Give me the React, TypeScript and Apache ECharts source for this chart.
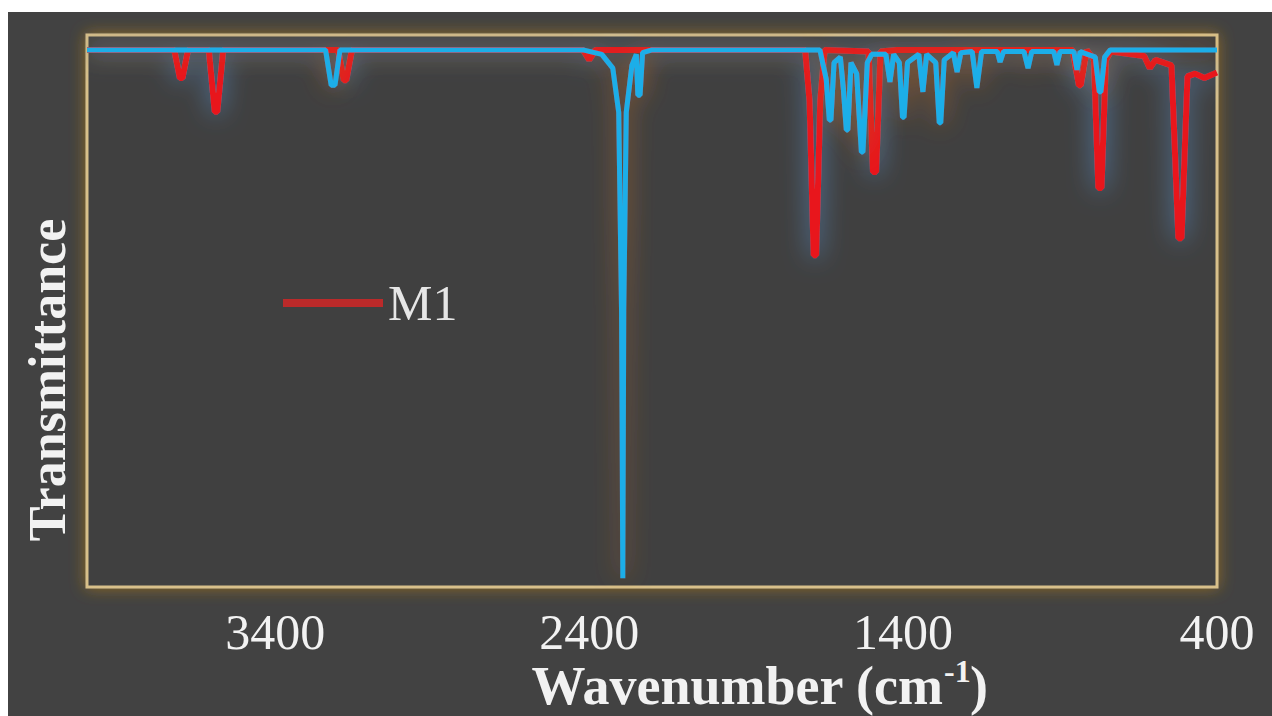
import React, { useEffect, useRef } from 'react';
import * as echarts from 'echarts';

const xTickLabels = [3400, 2400, 1400, 400];
const legendNames = ['M1'];
const yAxisTitle = 'Transmittance';
const xAxisTitleParts = ['Wavenumber (cm', '-1', ')'];

// [wavenumber (cm-1), transmittance %]
const redSpectrum: [number, number][] = [
  [4000, 97.3], [3722, 97.3], [3704, 92.2], [3696, 92.2], [3678, 97.3], [3612, 97.3], [3593, 86.1], [3585, 86.1], [3566, 97.3],
  [3200, 97.3], [3182, 91.8], [3174, 91.8], [3156, 97.3], [2420, 97.3], [2400, 95.5], [2380, 97.3],
  [1712, 97.3], [1698, 88], [1685, 60.1], [1677, 60.1], [1664, 88], [1650, 97.3],
  [1510, 97], [1496, 75.2], [1486, 75.2], [1472, 97], [1420, 97.3],
  [860, 97.3], [840, 90.9], [834, 90.9], [815, 97.3], [792, 95.5], [778, 72.3], [768, 72.3], [754, 95.5], [738, 97],
  [632, 96.2], [614, 94], [596, 95.5], [545, 94.5], [523, 63.2], [513, 63.2], [494, 92.5],
  [470, 93], [440, 92.2], [400, 93.2],
];

const blueSpectrum: [number, number][] = [
  [4000, 97.3], [3240, 97.3], [3222, 90.9], [3210, 90.9], [3194, 97.3],
  [2420, 97.3], [2360, 96.5], [2325, 94], [2306, 86], [2297, 50], [2293, 1.6], [2290, 50], [2282, 86],
  [2264, 94.5], [2250, 96.5], [2245, 89.1], [2238, 89.1], [2230, 96.8], [2200, 97.3],
  [1665, 97.3], [1645, 92], [1635, 84.6], [1630, 84.6], [1620, 95], [1600, 96], [1590, 90], [1581, 82.8], [1576, 82.8], [1566, 95],
  [1548, 93], [1533, 78.8], [1528, 78.8], [1514, 95], [1500, 96.5], [1455, 96.5], [1442, 91.5], [1430, 96.5],
  [1412, 95], [1402, 85.1], [1397, 85.1], [1386, 95], [1350, 96.5], [1337, 89.7], [1325, 96.5],
  [1296, 95], [1285, 84.1], [1280, 84.1], [1269, 95.5], [1240, 96.8], [1228, 93.3], [1216, 96.8],
  [1180, 97], [1165, 90.4], [1150, 97], [1100, 97], [1091, 95.1], [1080, 97],
  [1015, 97], [1002, 94], [990, 97], [920, 97], [910, 94.6], [900, 97],
  [856, 97], [846, 93.7], [836, 97], [788, 96], [775, 89.7], [770, 89.7], [758, 96], [740, 97.3], [400, 97.3],
];

const FONT = '"Liberation Serif", "Times New Roman", serif';

export default function App() {
  const ref = useRef<HTMLDivElement>(null);
  useEffect(() => {
    const chart = echarts.init(ref.current!, null, { renderer: 'svg' });
    const titleStyle = { fill: '#f2f2f2', fontWeight: 'bold', fontFamily: FONT, verticalAlign: 'middle' };
    chart.setOption({
      animation: false,
      backgroundColor: '#424242',
      grid: {
        left: 79, right: 55, top: 23, bottom: 129,
        show: true,
        backgroundColor: '#414141',
        borderColor: '#d8c08a',
        borderWidth: 3,
        shadowColor: 'rgba(150,110,30,0.9)',
        shadowBlur: 16,
      },
      legend: {
        data: legendNames,
        left: 270,
        top: 261,
        icon: 'rect',
        itemWidth: 100,
        itemHeight: 8,
        itemStyle: { color: '#bb2a2a' },
        textStyle: { color: '#e6e6e6', fontSize: 50, fontFamily: FONT },
      },
      xAxis: {
        type: 'value',
        min: 400,
        max: 4000,
        interval: 100,
        inverse: true,
        axisLine: { show: false },
        axisTick: { show: false },
        splitLine: { show: false },
        axisLabel: {
          margin: 29,
          color: '#f2f2f2',
          fontSize: 50,
          lineHeight: 32,
          fontFamily: FONT,
          formatter: (v: number) => (xTickLabels.includes(v) ? String(v) : ''),
        },
      },
      yAxis: {
        type: 'value',
        min: 0,
        max: 100,
        show: false,
      },
      graphic: [
        {
          type: 'text',
          x: 39,
          y: 368,
          rotation: Math.PI / 2,
          style: {
            text: yAxisTitle,
            fill: '#f2f2f2',
            fontSize: 52,
            fontWeight: 'bold',
            fontFamily: FONT,
            align: 'center',
            verticalAlign: 'middle',
          },
        },
        {
          type: 'text',
          x: 935,
          y: 674,
          style: { ...titleStyle, text: xAxisTitleParts[0], fontSize: 54, lineHeight: 36, align: 'right' },
        },
        {
          type: 'text',
          x: 936,
          y: 659,
          style: { ...titleStyle, text: xAxisTitleParts[1], fontSize: 32, lineHeight: 22, align: 'left' },
        },
        {
          type: 'text',
          x: 962,
          y: 674,
          style: { ...titleStyle, text: xAxisTitleParts[2], fontSize: 54, lineHeight: 36, align: 'left' },
        },
      ],
      series: [
        {
          name: 'M1',
          type: 'line',
          data: redSpectrum,
          symbol: 'none',
          lineStyle: {
            color: '#e8191a',
            width: 6,
            shadowColor: 'rgba(90,150,215,0.75)',
            shadowBlur: 24,
          },
          itemStyle: { color: '#e8191a' },
          z: 2,
        },
        {
          name: 'Reference',
          type: 'line',
          data: blueSpectrum,
          symbol: 'none',
          lineStyle: {
            color: '#1eaee8',
            width: 5,
            shadowColor: 'rgba(180,105,45,0.75)',
            shadowBlur: 24,
          },
          itemStyle: { color: '#1eaee8' },
          z: 3,
        },
      ],
    });
    return () => chart.dispose();
  }, []);
  return (
    <div
      ref={ref}
      style={{ position: 'absolute', left: 8, top: 12, width: 1264, height: 704, background: '#424242' }}
    />
  );
}
